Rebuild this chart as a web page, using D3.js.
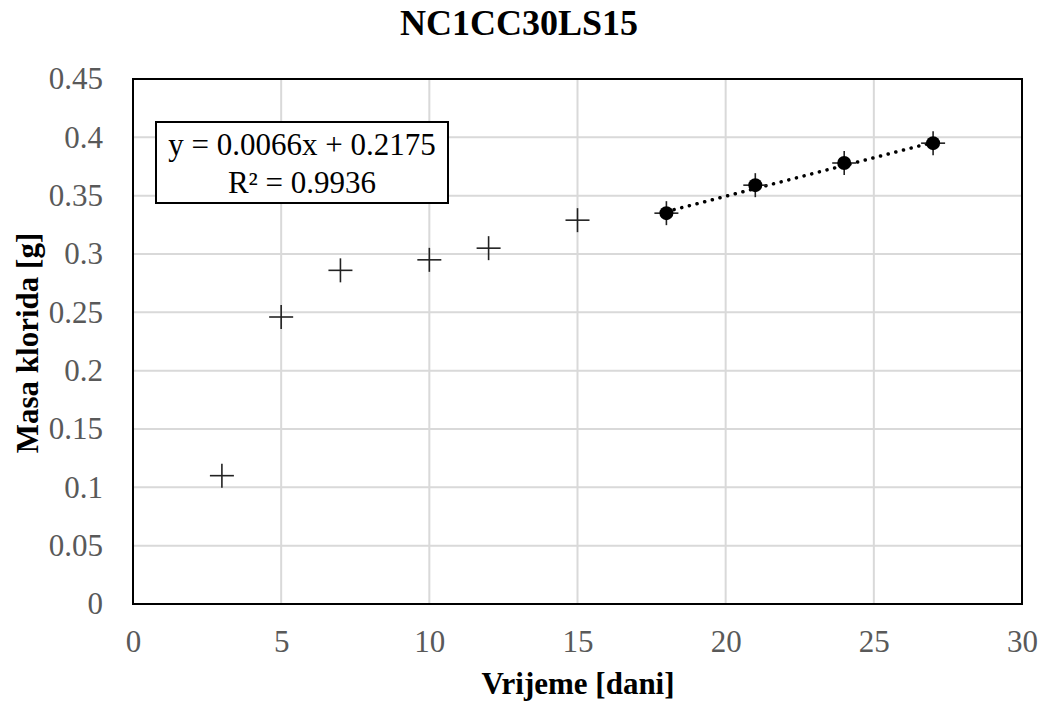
<!DOCTYPE html>
<html>
<head>
<meta charset="utf-8">
<script src="https://cdn.jsdelivr.net/npm/d3@7"></script>
<style>
  body { margin: 0; background: #fff; }
  svg { display: block; font-family: 'Liberation Serif', 'Times New Roman', serif; }
</style>
</head>
<body>
<svg id="chart" width="1045" height="706"></svg>
<script>
// measured points (plus markers)
const earlyDays = [3, 5, 7, 10, 12, 15]
const earlyMass = [0.110, 0.246, 0.286, 0.295, 0.305, 0.329]

// points used for the linear fit
const fitDays = [18, 21, 24, 27]
const fitMass = [0.335, 0.359, 0.378, 0.395]

const slope = 0.0066, intercept = 0.2175
const eqLines = ['y = 0.0066x + 0.2175', 'R² = 0.9936']

const xTicks = [0, 5, 10, 15, 20, 25, 30]
const yTicks = [0, 0.05, 0.1, 0.15, 0.2, 0.25, 0.3, 0.35, 0.4, 0.45]

const margin = { top: 79, right: 23, bottom: 102, left: 133 }
const width = 1045, height = 706

const svg = d3.select('#chart')

const x = d3.scaleLinear().domain([0, 30]).range([margin.left, width - margin.right])
const y = d3.scaleLinear().domain([0, 0.45]).range([height - margin.bottom, margin.top])

// grid
svg.append('g')
  .selectAll('line.vgrid')
  .data(xTicks.slice(1, -1))
  .enter().append('line')
    .attr('x1', d => x(d)).attr('x2', d => x(d))
    .attr('y1', y(0)).attr('y2', y(0.45))
    .style('stroke', '#d9d9d9').style('stroke-width', 2)

svg.append('g')
  .selectAll('line.hgrid')
  .data(yTicks.slice(1, -1))
  .enter().append('line')
    .attr('x1', x(0)).attr('x2', x(30))
    .attr('y1', d => y(d)).attr('y2', d => y(d))
    .style('stroke', '#d9d9d9').style('stroke-width', 2)

// plot border
svg.append('rect')
  .attr('x', x(0)).attr('y', y(0.45))
  .attr('width', x(30) - x(0)).attr('height', y(0) - y(0.45))
  .style('fill', 'none').style('stroke', '#000').style('stroke-width', 2)

// tick labels
let xAxis = svg.append('g')
  .attr('transform', `translate(0,${ y(0) + 48 })`)
  .call(d3.axisBottom(x).tickValues(xTicks).tickSize(0).tickFormat(d3.format('d')))
xAxis.select('.domain').remove()
xAxis.selectAll('text')
  .attr('y', 0).attr('dy', 0)
  .style('font-family', "'Liberation Serif', serif")
  .style('font-size', '31px').style('fill', '#595959')

let yAxis = svg.append('g')
  .attr('transform', `translate(${ x(0) - 30 },0)`)
  .call(d3.axisLeft(y).tickValues(yTicks).tickSize(0).tickFormat(d => d3.format('')(+d.toFixed(2))))
yAxis.select('.domain').remove()
yAxis.selectAll('text')
  .attr('x', 0)
  .style('font-family', "'Liberation Serif', serif")
  .style('font-size', '31px').style('fill', '#595959')

// trendline
svg.append('line')
  .attr('x1', x(fitDays[0])).attr('y1', y(slope * fitDays[0] + intercept))
  .attr('x2', x(fitDays[fitDays.length - 1])).attr('y2', y(slope * fitDays[fitDays.length - 1] + intercept))
  .style('stroke', '#000').style('stroke-width', 3.5)
  .style('stroke-linecap', 'round').style('stroke-dasharray', '0.1 7.8')

// plus markers, all points
const allPts = earlyDays.map((d, i) => [d, earlyMass[i]])
  .concat(fitDays.map((d, i) => [d, fitMass[i]]))

let plus = svg.append('g').selectAll('g.plus')
  .data(allPts)
  .enter().append('g')
    .attr('transform', d => `translate(${ x(d[0]) },${ y(d[1]) })`)
plus.append('line').attr('x1', -12).attr('x2', 12)
  .style('stroke', '#222').style('stroke-width', 1.6)
plus.append('line').attr('y1', -12).attr('y2', 12)
  .style('stroke', '#222').style('stroke-width', 1.6)

// filled markers for fitted points
svg.append('g').selectAll('circle')
  .data(fitDays.map((d, i) => [d, fitMass[i]]))
  .enter().append('circle')
    .attr('cx', d => x(d[0])).attr('cy', d => y(d[1]))
    .attr('r', 7)
    .style('fill', '#000')

// equation box
svg.append('rect')
  .attr('x', 156).attr('y', 122).attr('width', 292).attr('height', 81)
  .style('fill', '#fff').style('stroke', '#000').style('stroke-width', 2)

svg.append('g').selectAll('text')
  .data(eqLines)
  .enter().append('text')
    .attr('x', 302).attr('y', (d, i) => 155 + i * 38)
    .attr('text-anchor', 'middle')
    .style('font-size', '31px').style('fill', '#000')
    .text(d => d)

// title
svg.append('text')
  .attr('x', 519).attr('y', 35)
  .attr('text-anchor', 'middle')
  .style('font-size', '36px').style('font-weight', 'bold')
  .text('NC1CC30LS15')

// axis titles
svg.append('text')
  .attr('x', (x(0) + x(30)) / 2 + 0.5).attr('y', 694)
  .attr('text-anchor', 'middle')
  .style('font-size', '31px').style('font-weight', 'bold')
  .text('Vrijeme [dani]')

svg.append('text')
  .attr('transform', `translate(38,${ 343 }) rotate(-90)`)
  .attr('text-anchor', 'middle')
  .style('font-size', '31px').style('font-weight', 'bold')
  .text('Masa klorida [g]')
</script>
</body>
</html>
